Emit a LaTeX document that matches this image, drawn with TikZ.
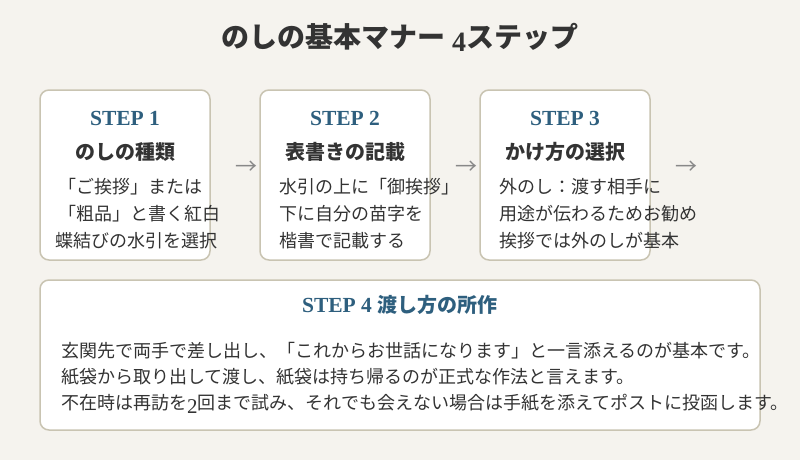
\documentclass[tikz,border=0pt]{standalone}
\usepackage{fontspec}
\setmainfont{Noto Sans CJK JP}
\newfontfamily\stepfont{Liberation Serif}
\definecolor{bgc}{HTML}{F5F3EE}
\definecolor{bord}{HTML}{C9C4B2}
\definecolor{stepc}{HTML}{2E5F7E}
\definecolor{txt}{HTML}{333333}
\definecolor{arr}{HTML}{888888}
\tikzset{x=1pt,y=-1pt,
 card/.style={draw=bord,line width=1.5pt,fill=white,rounded corners=9pt},
 steplbl/.style={text=stepc,font=\stepfont\bfseries\fontsize{21.5}{21.5}\selectfont,anchor=base},
 head/.style={text=txt,font=\bfseries\fontsize{20}{20}\selectfont,anchor=base},
 body/.style={text=txt,font=\fontsize{18}{18}\selectfont,anchor=base west,inner sep=0pt},
 arrw/.style={text=arr,font=\fontsize{22}{22}\selectfont}}
\begin{document}
\begin{tikzpicture}
\fill[bgc] (0,0) rectangle (800,460);
\useasboundingbox (0,0) rectangle (800,460);
\node[text=txt,font=\bfseries\fontsize{28}{28}\selectfont,anchor=base] (title) at (400,48) {のしの基本マナー {\stepfont\bfseries\raisebox{-4pt}{4}}ステップ};
\draw[card] (40,90) rectangle (210,260);
\draw[card] (260,90) rectangle (430,260);
\draw[card] (480,90) rectangle (650,260);
\draw[card] (40,280) rectangle (760,430);
\node[steplbl] (s1) at (125,125) {STEP 1};
\node[steplbl] (s2) at (345,125) {STEP 2};
\node[steplbl] (s3) at (565,125) {STEP 3};
\node[head] (h1) at (125,159) {のしの種類};
\node[head] (h2) at (345,159) {表書きの記載};
\node[head] (h3) at (565,159) {かけ方の選択};
\node[body] (a1) at (58,193) {「ご挨拶」または};
\node[body] (a2) at (58,220) {「粗品」と書く紅白};
\node[body] (a3) at (55,247) {蝶結びの水引を選択};
\node[body] (b1) at (279,193) {水引の上に「御挨拶」};
\node[body] (b2) at (279,220) {下に自分の苗字を};
\node[body] (b3) at (279,247) {楷書で記載する};
\node[body] (c1) at (499,193) {外のし：渡す相手に};
\node[body] (c2) at (499,220) {用途が伝わるためお勧め};
\node[body] (c3) at (499,247) {挨拶では外のしが基本};
\node[arrw] (r1) at (246,168) {→};
\node[arrw] (r2) at (466,168) {→};
\node[arrw] (r3) at (686,168) {→};
\node[anchor=base,text=stepc] (h4) at (400,312) {{\stepfont\bfseries\fontsize{21.5}{21.5}\selectfont STEP 4}\hspace{6pt}{\bfseries\fontsize{20}{20}\selectfont 渡し方の所作}};
\node[body] (d1) at (61,357) {玄関先で両手で差し出し、「これからお世話になります」と一言添えるのが基本です。};
\node[body] (d2) at (61,383) {紙袋から取り出して渡し、紙袋は持ち帰るのが正式な作法と言えます。};
\node[body] (d3) at (61,409) {不在時は再訪を{\stepfont\fontsize{21}{21}\selectfont\raisebox{-4pt}{2}}回まで試み、それでも会えない場合は手紙を添えてポストに投函します。};
\end{tikzpicture}
\end{document}
